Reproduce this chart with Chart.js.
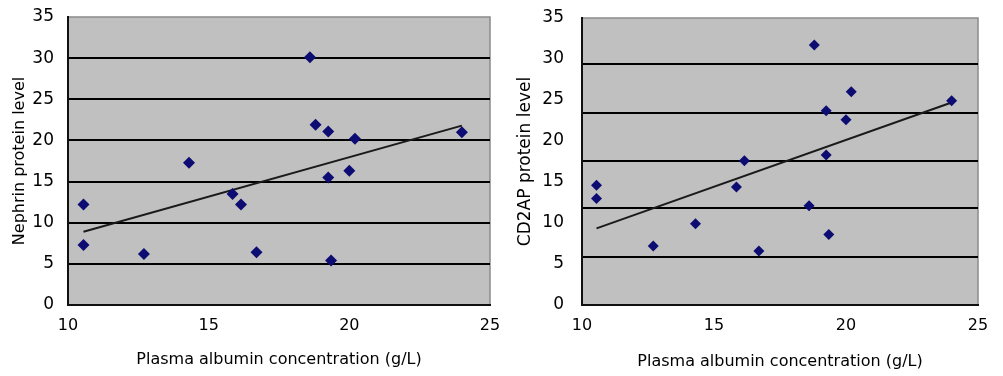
<!DOCTYPE html>
<html>
<head>
<meta charset="utf-8">
<script src="https://cdn.jsdelivr.net/npm/chart.js@4.4.0/dist/chart.umd.min.js"></script>
<style>
body { margin: 0; background: #fff; }
#wrap { position: relative; width: 1003px; height: 376px; }
.box { position: absolute; top: 0; height: 376px; }
</style>
</head>
<body>
<div id="wrap">
  <div class="box" style="left:0;width:500px"><canvas id="nephrinChart"></canvas></div>
  <div class="box" style="left:500px;width:503px"><canvas id="cd2apChart"></canvas></div>
</div>
<script>
// values
const albumin = [10.55, 10.55, 12.7, 14.3, 15.85, 16.15, 16.7, 18.6, 18.8, 19.25, 19.25, 19.35, 20.0, 20.2, 24.0];
const nephrin = [12.2, 7.3, 6.2, 17.3, 13.5, 12.2, 6.4, 30.1, 21.9, 21.1, 15.5, 5.4, 16.3, 20.2, 21.0];
const cd2ap = [14.6, 13.0, 7.2, 9.9, 14.4, 17.6, 6.6, 12.1, 31.7, 23.7, 18.3, 8.6, 22.6, 26.0, 24.9];

const trendX = [10.55, 24.0];
const nephrinTrend = [8.9, 21.8];
const cd2apTrend = [9.35, 24.7];

const xTicks = [10, 15, 20, 25];
const yTicks = [0, 5, 10, 15, 20, 25, 30, 35];
const nephrinGrid = [5, 10, 15, 20, 25, 30];
const cd2apGrid = [5.9, 11.8, 17.6, 23.4, 29.35];

const FONT = 'DejaVu Sans';

// gray plot box with lighter top/right edge
const plotBox = {
    id: 'plotBox',
    beforeDraw(chart) {
        const { ctx, chartArea: a } = chart;
        ctx.save();
        ctx.fillStyle = '#c0c0c0';
        ctx.fillRect(a.left, a.top, a.right - a.left, a.bottom - a.top);
        ctx.strokeStyle = '#8a8a8a';
        ctx.lineWidth = 1.5;
        ctx.beginPath();
        ctx.moveTo(a.left, a.top);
        ctx.lineTo(a.right, a.top);
        ctx.lineTo(a.right, a.bottom);
        ctx.stroke();
        ctx.restore();
    }
};

function pts(xs, ys) {
    return xs.map((x, i) => ({ x: x, y: ys[i] }));
}

function makeChart(id, ys, trend, gridVals, yTitle, yTitleSize, lay) {
    return new Chart(document.getElementById(id), {
        type: 'scatter',
        data: {
            datasets: [
                { data: pts(albumin, ys), pointStyle: 'rectRot', pointRadius: lay.r, backgroundColor: '#0c0c72', borderColor: '#0c0c72', borderWidth: 0 },
                { type: 'line', data: pts(trendX, trend), borderColor: '#1a1a1a', borderWidth: 2, pointRadius: 0, fill: false }
            ]
        },
        options: {
            responsive: true,
            maintainAspectRatio: false,
            animation: false,
            layout: { padding: lay.pad },
            plugins: { legend: { display: false }, tooltip: { enabled: false } },
            scales: {
                x: {
                    type: 'linear', min: 10, max: 25,
                    afterBuildTicks: s => { s.ticks = xTicks.map(v => ({ value: v })); },
                    ticks: { color: '#000', font: { family: FONT, size: 16 }, padding: 3 },
                    grid: { display: false },
                    border: { display: true, color: '#111', width: 2 },
                    title: { display: true, text: 'Plasma albumin concentration (g/L)', color: '#000', font: { family: FONT, size: 16 }, padding: 0 },
                    afterFit: s => { s.height = lay.xh; s.paddingLeft = 0; s.paddingRight = 0; }
                },
                y: {
                    type: 'linear', min: 0, max: 35,
                    afterBuildTicks: s => { s.ticks = yTicks.map(v => ({ value: v })); },
                    ticks: { color: '#000', font: { family: FONT, size: 17 }, padding: lay.tp },
                    grid: { display: false },
                    border: { display: true, color: '#111', width: 2 },
                    title: { display: true, text: yTitle, color: '#000', font: { family: FONT, size: yTitleSize }, padding: 0 },
                    afterFit: s => { s.width = lay.yw; s.paddingTop = 0; s.paddingBottom = 0; }
                },
                yg: {
                    type: 'linear', position: 'left', min: 0, max: 35,
                    afterBuildTicks: s => { s.ticks = gridVals.map(v => ({ value: v })); },
                    ticks: { display: false },
                    grid: { color: '#000', lineWidth: 2, drawTicks: false },
                    border: { display: false },
                    afterFit: s => { s.width = 0; s.paddingTop = 0; s.paddingBottom = 0; }
                }
            }
        },
        plugins: [plotBox]
    });
}

makeChart('nephrinChart', nephrin, nephrinTrend, nephrinGrid, 'Nephrin protein level', 16,
    { pad: { left: 10, right: 10, top: 17, bottom: 7 }, yw: 58, xh: 64, tp: 6, r: 6 });
makeChart('cd2apChart', cd2ap, cd2apTrend, cd2apGrid, 'CD2AP protein level', 17,
    { pad: { left: 15, right: 25, top: 18, bottom: 5 }, yw: 67, xh: 66, tp: 10, r: 5.5 });
</script>
</body>
</html>
